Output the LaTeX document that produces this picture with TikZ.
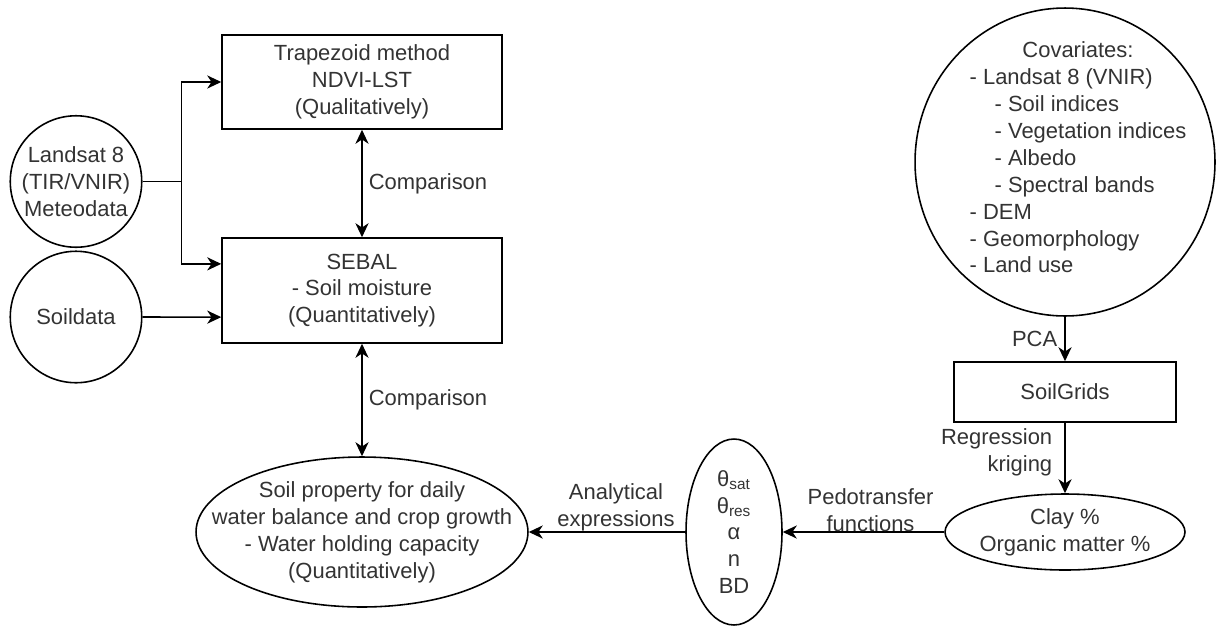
\documentclass[tikz,border=0pt]{standalone}
\usepackage{fontspec}
\setmainfont{Liberation Sans}
\usetikzlibrary{arrows.meta,shapes.geometric,calc}
\definecolor{txtgray}{HTML}{333333}
\tikzset{
	box/.style={draw, rectangle, line width=0.9pt, align=center, text=txtgray, inner sep=0pt},
	oval/.style={draw, ellipse, line width=0.9pt, inner sep=0pt},
	inside/.style={align=center, text=txtgray, inner sep=0pt},
	edgetxt/.style={align=center, text=txtgray, inner sep=0pt},
	flow/.style={line width=0.9pt, -{Stealth[length=8pt,width=7.5pt,inset=2.5pt]}},
	twoway/.style={line width=0.9pt, {Stealth[length=8pt,width=7.5pt,inset=2.5pt]}-{Stealth[length=8pt,width=7.5pt,inset=2.5pt]}},
}
\begin{document}
\begin{tikzpicture}[x=0.02cm, y=-0.02cm, font=\fontsize{12.5}{15.3}\selectfont]
	\useasboundingbox (0,0) rectangle (1216,626);

	\node[box, minimum width=5.6cm, minimum height=1.88cm] (trap) at (362,82) {Trapezoid method\\NDVI-LST\\(Qualitatively)};
	\node[box, minimum width=5.6cm, minimum height=2.1cm] (sebal) at (362,290.5) {SEBAL\\- Soil moisture\\(Quantitatively)};
	\node[oval, minimum size=2.63cm, label={[inside, name=landsat-txt]center:Landsat 8\\(TIR/VNIR)\\Meteodata}] (landsat) at (76,181.5) {};
	\node[oval, minimum size=2.63cm, label={[inside, name=soildata-txt]center:Soildata}] (soildata) at (76,317) {};
	\node[oval, minimum width=6.64cm, minimum height=3.0cm, label={[inside, name=prop-txt]center:Soil property for daily\\water balance and crop growth\\- Water holding capacity\\(Quantitatively)}] (prop) at (362,532) {};
	\node[oval, minimum width=1.92cm, minimum height=3.72cm, label={[inside, name=theta-txt]center:θ\textsubscript{sat}\\θ\textsubscript{res}\\α\\n\\BD}] (theta) at (734,532) {};
	\node[oval, minimum width=4.8cm, minimum height=1.52cm, label={[inside, name=clay-txt]center:Clay \%\\Organic matter \%}] (clay) at (1065,532) {};
	\node[box, minimum width=4.44cm, minimum height=1.2cm] (soilgrids) at (1065,392) {SoilGrids};
	\node[oval, minimum width=6.0cm, minimum height=6.16cm] (cov) at (1065,162) {};
	\node[inside, xshift=0.26cm, yshift=0.04cm] (cov-txt) at (cov) {\begin{tabular}{@{}l@{}}
		\multicolumn{1}{@{}c@{}}{Covariates:}\\
		- Landsat 8 (VNIR)\\
		\hspace{0.5cm}- Soil indices\\
		\hspace{0.5cm}- Vegetation indices\\
		\hspace{0.5cm}- Albedo\\
		\hspace{0.5cm}- Spectral bands\\
		- DEM\\
		- Geomorphology\\
		- Land use
	\end{tabular}};

	\coordinate (split) at ($(landsat.east)+(39,0)$);
	\draw[line width=0.9pt] (landsat.east) -- (split);
	\draw[flow] (split) |- (trap.west);
	\draw[flow] (split) |- ($(sebal.north west)!0.25!(sebal.south west)$);
	\draw[flow] (soildata.east) -- ($(sebal.north west)!0.75!(sebal.south west)$);

	\draw[twoway] (trap.south) -- node[edgetxt, anchor=west, xshift=0.12cm] (cmp-a) {Comparison} (sebal.north);
	\draw[twoway] (sebal.south) -- node[edgetxt, anchor=west, xshift=0.12cm] (cmp-b) {Comparison} (prop.north);

	\draw[flow] (theta.west) -- node[edgetxt, anchor=south, xshift=0.18cm] (ana) {Analytical\\expressions} (prop.east);
	\draw[flow] (clay.west) -- node[edgetxt, anchor=south, xshift=0.14cm] (ptf) {Pedotransfer\\functions} (theta.east);
	\draw[flow] (cov.south) -- node[edgetxt, anchor=east, xshift=-0.14cm] (pca) {PCA} (soilgrids.north);
	\draw[flow] (soilgrids.south) -- node[edgetxt, align=right, anchor=east, xshift=-0.24cm, yshift=0.12cm] (rk) {Regression\\kriging} (clay.north);
\end{tikzpicture}
\end{document}
